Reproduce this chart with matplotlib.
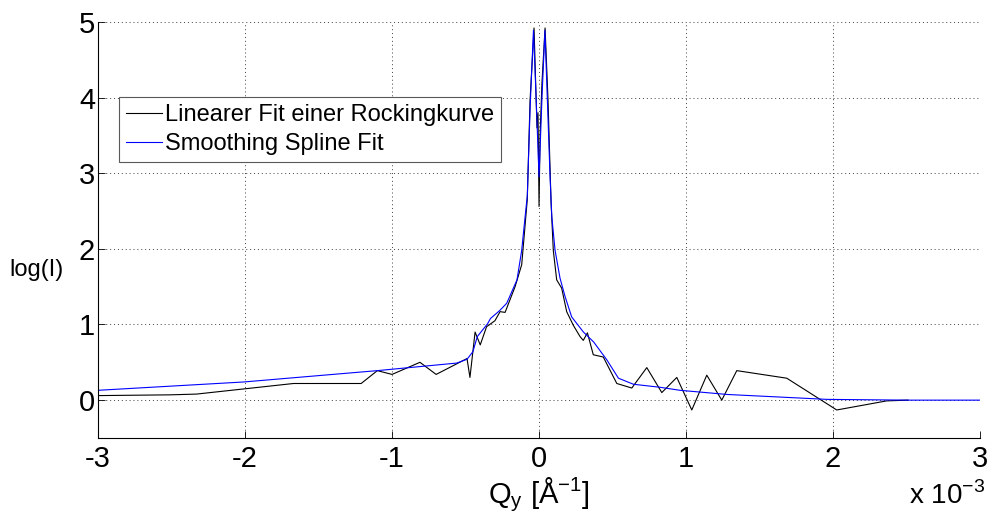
"""Rocking curve: linear fit vs smoothing spline fit (log intensity over Q_y)"""
import matplotlib
matplotlib.use('Agg')
import matplotlib.pyplot as plt

plt.rcParams['font.family'] = ['Liberation Sans', 'DejaVu Sans']
plt.rcParams['mathtext.fontset'] = 'custom'
plt.rcParams['mathtext.rm'] = 'Liberation Sans'
plt.rcParams['axes.unicode_minus'] = False

# Q_y in units of 1e-3 1/Angstrom, log(I)
lin_q = [-3.0, -2.51, -2.33, -1.67, -1.21, -1.10, -1.00, -0.81, -0.70, -0.56,
         -0.49, -0.47, -0.435, -0.40, -0.357, -0.30, -0.265, -0.231, -0.163,
         -0.118, -0.080, -0.061, -0.034, -0.014, -0.007, 0.0, 0.007, 0.02,
         0.041, 0.061, 0.082, 0.097, 0.12, 0.154, 0.188, 0.233, 0.279, 0.301,
         0.329, 0.369, 0.437, 0.529, 0.631, 0.733, 0.835, 0.937, 1.039, 1.141,
         1.243, 1.345, 1.685, 2.025, 2.365, 2.51]
lin_logi = [0.06, 0.07, 0.08, 0.22, 0.22, 0.39, 0.34, 0.50, 0.34, 0.48,
            0.55, 0.30, 0.90, 0.73, 0.97, 1.05, 1.17, 1.16, 1.50,
            1.79, 2.65, 3.97, 4.92, 3.6, 3.8, 2.56, 3.5, 4.2,
            4.92, 3.97, 2.6, 1.98, 1.59, 1.48, 1.17, 0.99, 0.84, 0.79,
            0.89, 0.60, 0.57, 0.22, 0.16, 0.43, 0.10, 0.30, -0.13, 0.33,
            0.0, 0.39, 0.29, -0.13, -0.01, 0.0]

spl_q = [-3.0, -2.01, -1.10, -0.56, -0.49, -0.45, -0.42, -0.35, -0.33, -0.27,
         -0.22, -0.15, -0.118, -0.095, -0.080, -0.060, -0.038, -0.02, 0.0,
         0.02, 0.040, 0.075, 0.087, 0.109, 0.143, 0.177, 0.222, 0.302, 0.371,
         0.462, 0.54, 0.642, 0.823, 0.959, 1.28, 1.96, 2.51, 3.0]
spl_logi = [0.13, 0.24, 0.39, 0.49, 0.54, 0.64, 0.84, 1.01, 1.08, 1.18,
            1.28, 1.59, 1.98, 2.42, 2.70, 3.9, 4.89, 4.0, 2.95,
            4.0, 4.89, 2.95, 2.42, 1.98, 1.61, 1.37, 1.10, 0.90, 0.77,
            0.53, 0.29, 0.21, 0.17, 0.13, 0.075, 0.01, 0.0, 0.0]

fig = plt.figure(figsize=(9.95, 5.22), dpi=100)
ax = fig.add_axes([0.0985, 0.161, 0.8865, 0.797])

ax.plot(lin_q, lin_logi, color='black', lw=0.8, label='Linearer Fit einer Rockingkurve')
ax.plot(spl_q, spl_logi, color='blue', lw=0.8, label='Smoothing Spline Fit')

ax.set_xlim(-3, 3)
ax.set_ylim(-0.5, 5)
ax.set_xticks(range(-3, 4))
ax.set_yticks(range(0, 6))
ax.tick_params(direction='in', length=5, width=0.6, labelsize=21)
ax.tick_params(axis='x', pad=5)
ax.tick_params(axis='y', pad=2)
ax.grid(True, color='0.25', linestyle=(0, (1, 3)), lw=0.7)
ax.spines['top'].set_visible(False)
ax.spines['right'].set_visible(False)

ax.set_xlabel('Q$_\\mathrm{y}$ [Å$^\\mathrm{-1}$]', fontsize=21, labelpad=2)
ax.set_ylabel('log(I)', fontsize=17, rotation=0, va='center', ha='center')
ax.yaxis.set_label_coords(-0.070, 0.404)
ax.text(1.006, -0.105, 'x 10$^\\mathrm{-3}$', transform=ax.transAxes,
        ha='right', va='top', fontsize=20)

leg = ax.legend(loc='upper left', bbox_to_anchor=(0.024, 0.819), borderaxespad=0,
                fontsize=17, handlelength=1.5, handletextpad=0.15, borderpad=0.3,
                labelspacing=0.28, fancybox=False, framealpha=1)
leg.get_frame().set_edgecolor('0.35')
leg.get_frame().set_linewidth(0.8)

plt.savefig('out.png', dpi=100)
